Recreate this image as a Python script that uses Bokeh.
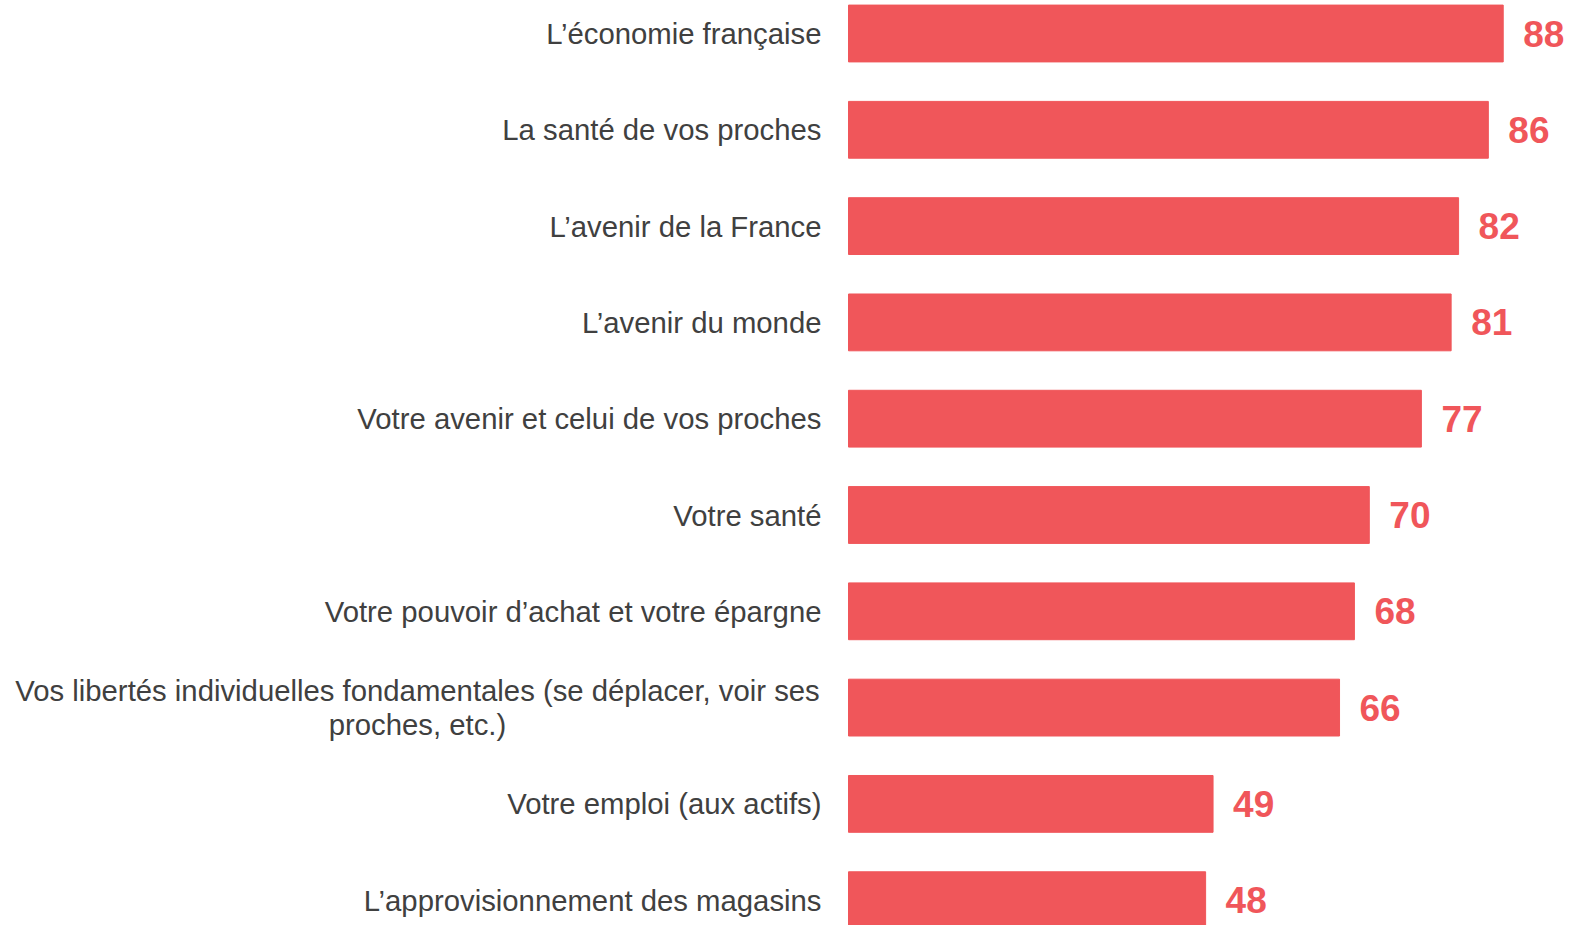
from bokeh.plotting import figure
from bokeh.models import ColumnDataSource, Range1d
from bokeh.core.properties import value
from bokeh.embed import file_html
from bokeh.resources import INLINE

categories = [
    "L\u2019économie française",
    "La santé de vos proches",
    "L\u2019avenir de la France",
    "L\u2019avenir du monde",
    "Votre avenir et celui de vos proches",
    "Votre santé",
    "Votre pouvoir d\u2019achat et votre épargne",
    "Vos libertés individuelles fondamentales (se déplacer, voir ses\nproches, etc.)",
    "Votre emploi (aux actifs)",
    "L\u2019approvisionnement des magasins",
]
values = [88, 86, 82, 81, 77, 70, 68, 66, 49, 48]

BAR = "#F0565A"
TXT = "#404040"
FONT = "Liberation Sans"

W, H = 1571, 925
px_per_unit = 7.44      # horizontal scale
x0_px = 848             # where bars start inside the figure
row_px = 96.3           # row pitch
top_px = 33             # centre of first row inside the figure

p = figure(width=W, height=H, output_backend="svg", toolbar_location=None,
           x_range=Range1d(-x0_px / px_per_unit, (W - x0_px) / px_per_unit),
           y_range=Range1d((H - top_px) / row_px, -top_px / row_px),
           min_border=0, outline_line_color=None)
p.xaxis.visible = False
p.yaxis.visible = False
p.grid.visible = False
p.background_fill_color = "white"
p.border_fill_color = "white"

ys = list(range(len(categories)))
src = ColumnDataSource(dict(y=ys, v=values, lab=[str(v) for v in values],
                            zero=[0] * len(values)))
p.hbar(y="y", left="zero", right="v", height=0.59, color=BAR, source=src)

p.text(x="v", y="y", text="lab", source=src, x_offset=20,
       text_align="left", text_baseline="middle",
       text_font=value(FONT), text_font_style="bold",
       text_font_size="37px", text_color=BAR)

single = [i for i, c in enumerate(categories) if "\n" not in c]
multi = [i for i, c in enumerate(categories) if "\n" in c]

src1 = ColumnDataSource(dict(y=[ys[i] for i in single],
                             t=[categories[i] for i in single],
                             x=[0] * len(single)))
p.text(x="x", y="y", text="t", source=src1, x_offset=-27,
       text_align="right", text_baseline="middle",
       text_font=value(FONT), text_font_size="29.3px", text_color=TXT)

src2 = ColumnDataSource(dict(y=[ys[i] for i in multi],
                             t=[categories[i] for i in multi],
                             x=[0] * len(multi)))
p.text(x="x", y="y", text="t", source=src2, x_offset=-431,
       text_align="center", text_baseline="middle", text_line_height=1.03,
       text_font=value(FONT), text_font_size="29.3px", text_color=TXT)

open("out.html", "w").write(file_html(p, INLINE))
